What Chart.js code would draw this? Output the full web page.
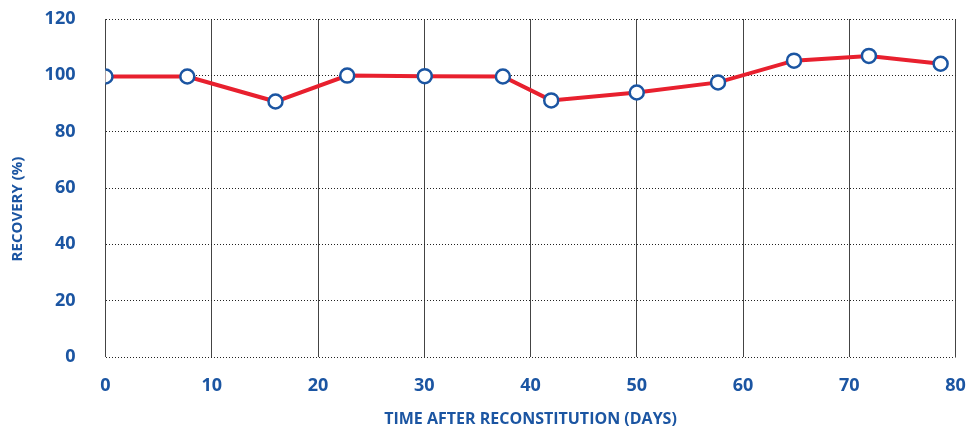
<!DOCTYPE html>
<html>
<head>
<meta charset="utf-8">
<script src="https://cdn.jsdelivr.net/npm/chart.js@4"></script>
<style>
html,body{margin:0;padding:0;background:#fff;}
#wrap{width:968px;height:429px;position:relative;}
</style>
</head>
<body>
<div id="wrap"><canvas id="c"></canvas></div>
<script>
const days = [0, 7.7, 16, 22.75, 30.05, 37.4, 41.95, 50, 57.65, 64.8, 71.85, 78.6];
const recovery = [99.6, 99.6, 90.7, 99.9, 99.7, 99.6, 91.1, 93.9, 97.5, 105.2, 106.9, 104.1];
const xTicks = [0, 10, 20, 30, 40, 50, 60, 70, 80];
const yTicks = [0, 20, 40, 60, 80, 100, 120];
const xTitle = 'TIME AFTER RECONSTITUTION (DAYS)';
const yTitle = 'RECOVERY (%)';

const blue = '#1b55a2';
const red = '#e8202e';
const fontFam = '"Open Sans", Lato, sans-serif';

const yTitlePlugin = {
  id: 'yTitle',
  afterDraw(chart) {
    const ctx = chart.ctx;
    ctx.save();
    ctx.translate(18, 209);
    ctx.rotate(-Math.PI / 2);
    ctx.fillStyle = blue;
    ctx.font = 'bold 15px ' + fontFam;
    ctx.textAlign = 'center';
    ctx.textBaseline = 'middle';
    ctx.fillText(yTitle, 0, 0);
    ctx.restore();
  }
};

new Chart(document.getElementById('c'), {
  type: 'scatter',
  data: {
    datasets: [{
      data: days.map((d, i) => ({x: d, y: recovery[i]})),
      showLine: true,
      borderColor: red,
      borderWidth: 4,
      pointRadius: 7,
      pointBorderWidth: 2.5,
      pointBackgroundColor: '#fff',
      pointBorderColor: blue,
      tension: 0
    }]
  },
  plugins: [yTitlePlugin],
  options: {
    responsive: true,
    maintainAspectRatio: false,
    animation: false,
    layout: {padding: {top: 19, right: 12.5, left: 0, bottom: 0}},
    plugins: {legend: {display: false}, tooltip: {enabled: false}},
    scales: {
      x: {
        type: 'linear', min: 0, max: 80,
        afterBuildTicks: s => { s.ticks = xTicks.map(v => ({value: v})); },
        afterFit: s => { s.height = 72; s.paddingLeft = 0; s.paddingRight = 0; },
        border: {display: false},
        grid: {color: '#444', lineWidth: 1, drawTicks: false},
        ticks: {color: blue, padding: 18, font: {family: fontFam, size: 18, weight: 'bold'}},
        title: {display: true, text: xTitle, color: blue,
                font: {family: fontFam, size: 16, weight: 'bold'}, padding: {top: 18, bottom: 0}}
      },
      y: {
        type: 'linear', min: 0, max: 120,
        afterBuildTicks: s => { s.ticks = yTicks.map(v => ({value: v})); },
        afterFit: s => { s.width = 105.5; s.paddingTop = 0; s.paddingBottom = 0; },
        border: {display: false, dash: [1, 2]},
        grid: {color: '#222', lineWidth: 1, drawTicks: false},
        ticks: {color: blue, padding: 30, font: {family: fontFam, size: 18, weight: 'bold'}},
        title: {display: false}
      }
    }
  }
});
</script>
</body>
</html>
